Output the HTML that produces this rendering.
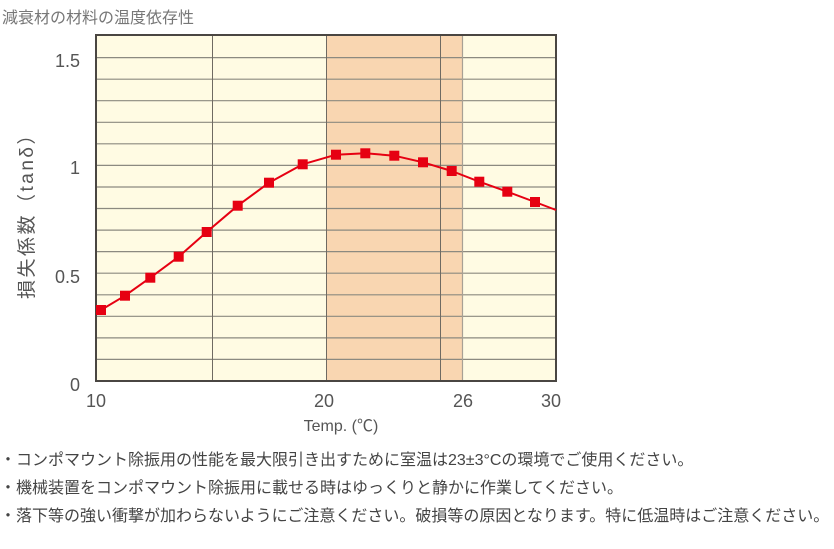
<!DOCTYPE html>
<html><head><meta charset="utf-8"><style>
html,body{margin:0;padding:0;background:#fff;}
body{width:834px;height:549px;overflow:hidden;position:relative;}
svg{position:absolute;left:0;top:0;}
.t{font-family:"Liberation Sans","Noto Sans CJK JP",sans-serif;}
</style></head><body>
<svg width="834" height="549" viewBox="0 0 834 549" xmlns="http://www.w3.org/2000/svg">
<text class="t" x="2" y="23" font-size="16" fill="#777">減衰材の材料の温度依存性</text>
<rect x="96" y="35" width="460" height="346" fill="#fffbe3"/>
<rect x="326" y="35" width="137" height="346" fill="#f9d6b1"/>
<g stroke="#8c8a80" stroke-width="1.2">
<line x1="96" x2="556" y1="359.4" y2="359.4"/>
<line x1="96" x2="556" y1="337.9" y2="337.9"/>
<line x1="96" x2="556" y1="316.3" y2="316.3"/>
<line x1="96" x2="556" y1="294.8" y2="294.8"/>
<line x1="96" x2="556" y1="273.2" y2="273.2"/>
<line x1="96" x2="556" y1="251.6" y2="251.6"/>
<line x1="96" x2="556" y1="230.1" y2="230.1"/>
<line x1="96" x2="556" y1="208.5" y2="208.5"/>
<line x1="96" x2="556" y1="187" y2="187"/>
<line x1="96" x2="556" y1="165.4" y2="165.4"/>
<line x1="96" x2="556" y1="143.8" y2="143.8"/>
<line x1="96" x2="556" y1="122.3" y2="122.3"/>
<line x1="96" x2="556" y1="100.7" y2="100.7"/>
<line x1="96" x2="556" y1="79.2" y2="79.2"/>
<line x1="96" x2="556" y1="57.6" y2="57.6"/>
</g>
<g stroke="#6f6a62" stroke-width="1">
<line x1="212.5" x2="212.5" y1="35" y2="381"/>
<line x1="326.5" x2="326.5" y1="35" y2="381"/>
<line x1="440.5" x2="440.5" y1="35" y2="381"/>
</g>
<line x1="462.5" x2="462.5" y1="35" y2="381" stroke="#a8a094" stroke-width="1.2"/>
<rect x="96" y="35" width="460" height="346" fill="none" stroke="#4a4642" stroke-width="2"/>
<polyline fill="none" stroke="#e60012" stroke-width="2" stroke-linejoin="round"
points="96,313 101,310 125,295.7 150.3,277.7 178.7,256.7 206.7,232 237.7,205.7 269,182.7 302.7,164.3 336,154.7 365.3,153.3 394.3,155.7 423,162.3 451.7,171 479.3,181.7 507.3,191.7 535,202 556,210"/>
<g fill="#e60012">
<rect x="96" y="305" width="10" height="10"/>
<rect x="120" y="290.7" width="10" height="10"/>
<rect x="145.3" y="272.7" width="10" height="10"/>
<rect x="173.7" y="251.7" width="10" height="10"/>
<rect x="201.7" y="227" width="10" height="10"/>
<rect x="232.7" y="200.7" width="10" height="10"/>
<rect x="264" y="177.7" width="10" height="10"/>
<rect x="297.7" y="159.3" width="10" height="10"/>
<rect x="331" y="149.7" width="10" height="10"/>
<rect x="360.3" y="148.3" width="10" height="10"/>
<rect x="389.3" y="150.7" width="10" height="10"/>
<rect x="418" y="157.3" width="10" height="10"/>
<rect x="446.7" y="166" width="10" height="10"/>
<rect x="474.3" y="176.7" width="10" height="10"/>
<rect x="502.3" y="186.7" width="10" height="10"/>
<rect x="530" y="197" width="10" height="10"/>
</g>
<g class="t" font-size="18" fill="#555" text-anchor="end">
<text x="80" y="67">1.5</text>
<text x="80" y="174">1</text>
<text x="80" y="283">0.5</text>
<text x="80" y="391">0</text>
</g>
<g class="t" font-size="18" fill="#555" text-anchor="middle">
<text x="96" y="407">10</text>
<text x="324" y="407">20</text>
<text x="463" y="407">26</text>
<text x="551" y="407">30</text>
</g>
<text class="t" x="341" y="431" font-size="16" fill="#555" text-anchor="middle">Temp. (℃)</text>
<text class="t" transform="translate(33,211) rotate(-90)" font-size="19" letter-spacing="2.5" fill="#555" text-anchor="middle">損失係数（tanδ）</text>
<g class="t" font-size="16" fill="#444">
<text x="0" y="465">・コンポマウント除振用の性能を最大限引き出すために室温は23±3°Cの環境でご使用ください。</text>
<text x="0" y="493">・機械装置をコンポマウント除振用に載せる時はゆっくりと静かに作業してください。</text>
<text x="0" y="521">・落下等の強い衝撃が加わらないようにご注意ください。破損等の原因となります。特に低温時はご注意ください。</text>
</g>
</svg>
</body></html>
